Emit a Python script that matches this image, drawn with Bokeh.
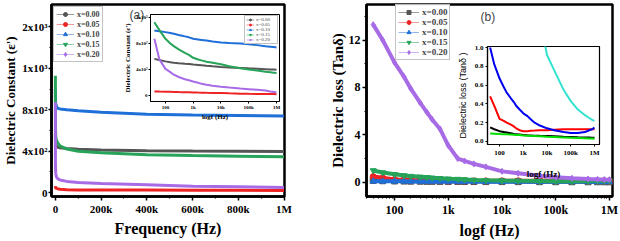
from bokeh.plotting import figure
from bokeh.layouts import row
from bokeh.models import ColumnDataSource, FixedTicker, Legend, LegendItem, Label, Range1d, NumeralTickFormatter
from bokeh.embed import file_html
from bokeh.resources import INLINE

# ---------------- data ----------------
freq = [40, 60, 100, 150, 200, 300, 400, 500, 700, 1000, 1500, 2000, 3000, 5000, 10000, 20000,
        50000, 100000, 200000, 400000, 600000, 800000, 1000000]
labels = ["x=0.00", "x=0.05", "x=0.10", "x=0.15", "x=0.20"]

# dielectric constant (eps')
eps_000 = [564, 545, 525, 512, 505, 497, 492, 488, 484, 477, 470, 465, 458, 450, 440, 432, 425, 418, 412, 405, 401, 399, 397]
eps_005 = [62, 60, 58, 57, 55, 53, 52, 51, 50, 47, 45, 44, 42, 40, 37, 33, 28, 26, 25, 24, 23, 22, 21]
eps_010 = [1000, 990, 975, 962, 950, 932, 920, 910, 895, 872, 862, 855, 845, 832, 815, 808, 800, 790, 775, 757, 750, 745, 740]
eps_015 = [1128, 1010, 872, 800, 760, 710, 680, 655, 625, 580, 555, 540, 520, 505, 480, 450, 420, 400, 385, 365, 357, 351, 346]
eps_020 = [872, 560, 410, 360, 320, 285, 265, 250, 235, 215, 195, 180, 165, 150, 135, 122, 108, 98, 87, 76, 62, 55, 48]

# dielectric loss (tan delta)
tan_000 = [0.15, 0.13, 0.11, 0.10, 0.095, 0.087, 0.08, 0.078, 0.075, 0.07, 0.067, 0.065, 0.062, 0.06, 0.058, 0.055, 0.05, 0.048, 0.045, 0.043, 0.042, 0.041, 0.04]
tan_005 = [0.48, 0.38, 0.24, 0.22, 0.20, 0.18, 0.16, 0.14, 0.12, 0.11, 0.11, 0.115, 0.117, 0.12, 0.12, 0.125, 0.13, 0.13, 0.13, 0.13, 0.13, 0.13, 0.13]
tan_010 = [0.085, 0.083, 0.08, 0.078, 0.076, 0.074, 0.072, 0.07, 0.068, 0.065, 0.062, 0.06, 0.058, 0.055, 0.05, 0.047, 0.043, 0.04, 0.037, 0.034, 0.032, 0.031, 0.03]
tan_015 = [1.0, 0.82, 0.67, 0.58, 0.52, 0.46, 0.42, 0.38, 0.34, 0.30, 0.27, 0.24, 0.20, 0.17, 0.14, 0.12, 0.10, 0.09, 0.09, 0.10, 0.12, 0.13, 0.15]
tan_020 = [13.3, 12.0, 10.1, 8.9, 7.9, 6.7, 5.9, 5.3, 4.5, 3.1, 2.0, 1.8, 1.55, 1.3, 0.92, 0.76, 0.55, 0.43, 0.34, 0.28, 0.25, 0.23, 0.22]

eps_series = [eps_000, eps_005, eps_010, eps_015, eps_020]
tan_series = [tan_000, tan_005, tan_010, tan_015, tan_020]

lin_ticks = [0, 200000, 400000, 600000, 800000, 1000000]
lin_tick_labels = ["0", "200k", "400k", "600k", "800k", "1M"]
log_ticks = [100, 1000, 10000, 100000, 1000000]
log_tick_labels = ["100", "1k", "10k", "100k", "1M"]
eps_ticks = [0, 400, 800, 1200, 1600]
eps_tick_labels = ["0", "4x10\u00b2", "8x10\u00b2", "1x10\u00b3", "2x10\u00b3"]
tan_ticks = [0, 4, 8, 12]
tan_inset_ticks = [0.0, 0.2, 0.4, 0.6, 0.8, 1.0]

colors = ["#555555", "#ee2424", "#1f6fd8", "#27a35a", "#a86be6"]
light = ["#9a9a9a", "#f29a9a", "#93b8ec", "#8fd1a8", "#d2b3f3"]
inset_b_colors = ["#000000", "#ff0000", "#00e000", "#0000ee", "#33e3d0"]
markers_a = ["circle", "circle", "triangle", "inverted_triangle", "diamond"]
markers_b = ["square", "circle", "triangle", "inverted_triangle", "diamond"]

SERIF = "Liberation Serif"
SANS = "Liberation Sans"
NAN = float("nan")
log_minor = [m * 10 ** e for e in range(1, 7) for m in range(2, 10)]


def style_axes(p, tick_size, lw=2.5, tick_out=4, minor_out=2):
    for ax in p.axis:
        ax.axis_line_width = lw
        ax.major_tick_line_width = 1.5 if lw > 1.5 else 1
        ax.minor_tick_line_width = 1.2 if lw > 1.5 else 0.8
        ax.major_tick_in = 0
        ax.major_tick_out = tick_out
        ax.minor_tick_in = 0
        ax.minor_tick_out = minor_out
        ax.major_label_text_font = SERIF
        ax.major_label_text_font_style = "bold"
        ax.major_label_text_font_size = tick_size
        ax.major_label_text_color = "black"
        ax.axis_label_text_font = SERIF
        ax.axis_label_text_font_style = "bold"
        ax.axis_label_text_color = "black"
        ax.major_label_standoff = 2
    p.grid.visible = False
    p.outline_line_color = "black"
    p.outline_line_width = lw
    p.outline_line_alpha = 1


def legend_renderers(p, line_col, mark_col, marker, msize, lw):
    src = ColumnDataSource(dict(x=[NAN], y=[NAN]))
    r1 = p.line("x", "y", source=src, line_color=line_col, line_width=lw)
    r2 = p.scatter("x", "y", source=src, marker=marker, size=msize, color=mark_col)
    return [r1, r2]


# ---------------- (a) main ----------------
pa = figure(width=300, height=241, output_backend="svg", toolbar_location=None,
            x_range=Range1d(-17000, 1002000), y_range=Range1d(-38, 1817),
            min_border_left=47, min_border_right=16, min_border_top=4, min_border_bottom=44)
style_axes(pa, "11px")
pa.xaxis.ticker = FixedTicker(ticks=lin_ticks, minor_ticks=[100000, 300000, 500000, 700000, 900000])
pa.xaxis.major_label_overrides = dict(zip(lin_ticks, lin_tick_labels))
pa.yaxis.ticker = FixedTicker(ticks=eps_ticks, minor_ticks=[200, 600, 1000, 1400])
pa.yaxis.major_label_overrides = dict(zip(eps_ticks, eps_tick_labels))
pa.xaxis.axis_label = "Frequency (Hz)"
pa.xaxis.axis_label_text_font_size = "16px"
pa.xaxis.axis_label_standoff = 2
pa.yaxis.axis_label = "Dielectric Constant (\u03b5')"
pa.yaxis.axis_label_text_font_size = "13px"
pa.yaxis.axis_label_standoff = 1
pa.yaxis.major_label_standoff = 1
pa.yaxis.major_tick_out = 3

items = []
for lab, col, lc, mk, vals in zip(labels, colors, light, markers_a, eps_series):
    pa.line(freq, vals, line_color=col, line_width=3)
    items.append(LegendItem(label=lab, renderers=legend_renderers(pa, lc, col, mk, 4, 1)))
lega = Legend(items=items, location="top_left", margin=2, padding=2, spacing=0,
              glyph_width=18, glyph_height=10, label_height=10, label_standoff=3,
              label_text_font=SERIF, label_text_font_style="bold", label_text_font_size="8px",
              border_line_color="#888888", border_line_width=1, background_fill_alpha=1)
pa.add_layout(lega)
pa.add_layout(Label(x=324000, y=1779, text="(a)", text_font=SANS, text_font_size="12px",
                    text_baseline="top", text_align="left"))

# ---------------- (a) inset ----------------
ia = figure(frame_width=129, frame_height=87, output_backend="svg", toolbar_location=None,
            x_axis_type="log", x_range=Range1d(29, 1.28e6), y_range=Range1d(-92, 1246),
            min_border_left=34, min_border_right=6, min_border_top=2, min_border_bottom=24,
            background_fill_color="white", border_fill_alpha=0)
style_axes(ia, "5px", lw=1, tick_out=2, minor_out=1)
ia.xaxis.ticker = FixedTicker(ticks=log_ticks, minor_ticks=[])
ia.xaxis.major_label_overrides = dict(zip(log_ticks, log_tick_labels))
ia.yaxis.ticker = FixedTicker(ticks=eps_ticks[:4], minor_ticks=[])
ia.yaxis.major_label_overrides = dict(zip(eps_ticks[:4], eps_tick_labels[:4]))
for ax in ia.axis:
    ax.major_label_standoff = 1
ia.xaxis.axis_label = "logf (Hz)"
ia.xaxis.axis_label_text_font_size = "7px"
ia.xaxis.axis_label_standoff = 0
ia.yaxis.axis_label = "Dielectric Constant (\u03b5')"
ia.yaxis.axis_label_text_font_size = "7px"
ia.yaxis.axis_label_standoff = 1
items = []
for lab, col, lc, mk, vals in zip(labels, colors, light, markers_a, eps_series):
    ia.line(freq, vals, line_color=col, line_width=2)
    items.append(LegendItem(label=lab, renderers=legend_renderers(ia, lc, col, mk, 3, 1)))
legi = Legend(items=items, location="top_right", margin=1, padding=1, spacing=0,
              glyph_width=8, glyph_height=5, label_height=5, label_standoff=2,
              label_text_font=SERIF, label_text_font_size="5px",
              border_line_color="#888888", border_line_width=1)
ia.add_layout(legi)
# inset placed after both panels (pulled back over panel a)
ia.margin = (10, -169, 0, -504)

# ---------------- (b) main ----------------
pb = figure(width=320, height=241, output_backend="svg", toolbar_location=None,
            x_axis_type="log", x_range=Range1d(30, 1.14e6), y_range=Range1d(-1.2, 15.0),
            min_border_left=66, min_border_right=8, min_border_top=3, min_border_bottom=41)
style_axes(pb, "12px")
pb.xaxis.ticker = FixedTicker(ticks=log_ticks, minor_ticks=log_minor)
pb.xaxis.major_label_overrides = dict(zip(log_ticks, log_tick_labels))
pb.yaxis.ticker = FixedTicker(ticks=tan_ticks, minor_ticks=[2, 6, 10, 14])
pb.xaxis.axis_label = "logf (Hz)"
pb.xaxis.axis_label_text_font_size = "16px"
pb.xaxis.axis_label_standoff = 2
pb.yaxis.axis_label = "Dielectric loss (Tan\u03b4)"
pb.yaxis.axis_label_text_font_size = "15px"
pb.yaxis.axis_label_standoff = 0
items = []
for lab, col, lc, mk, vals in zip(labels, colors, light, markers_b, tan_series):
    pb.line(freq, vals, line_color=col, line_width=4)
    pb.scatter(freq, vals, marker=mk, size=6, color=col)
    items.append(LegendItem(label=lab, renderers=legend_renderers(pb, lc, col, mk, 6, 1)))
legb = Legend(items=items, location=(29, 136), padding=2, spacing=0,
              glyph_width=21, glyph_height=10, label_height=10, label_standoff=3,
              label_text_font=SERIF, label_text_font_style="bold", label_text_font_size="9px",
              border_line_color="#888888", border_line_width=1)
pb.add_layout(legb)
pb.add_layout(Label(x=3980, y=14.5, text="(b)", text_font=SANS, text_font_size="12px",
                    text_baseline="top", text_align="left"))

# ---------------- (b) inset ----------------
ib = figure(frame_width=112, frame_height=98, output_backend="svg", toolbar_location=None,
            x_axis_type="log", x_range=Range1d(31, 1.63e6), y_range=Range1d(-0.032, 1.011),
            min_border_left=38, min_border_right=7, min_border_top=3, min_border_bottom=40,
            background_fill_color="white", border_fill_alpha=0)
style_axes(ib, "7px", lw=1.2, tick_out=2, minor_out=1)
ib.xaxis.ticker = FixedTicker(ticks=log_ticks, minor_ticks=[])
ib.xaxis.major_label_overrides = dict(zip(log_ticks, log_tick_labels))
ib.yaxis.ticker = FixedTicker(ticks=tan_inset_ticks, minor_ticks=[])
ib.yaxis.formatter = NumeralTickFormatter(format="0.0")
ib.xaxis.axis_label = "logf (Hz)"
ib.xaxis.axis_label_text_font_size = "9px"
ib.xaxis.axis_label_standoff = 9
ib.yaxis.axis_label = "Dielectric loss (Tan\u03b4 )"
ib.yaxis.axis_label_text_font = SANS
ib.yaxis.axis_label_text_font_style = "normal"
ib.yaxis.axis_label_text_font_size = "9px"
ib.yaxis.axis_label_standoff = 4
for col, vals in zip(inset_b_colors, tan_series):
    ib.line(freq, vals, line_color=col, line_width=2)
ib.margin = (42, 10, 0, 333)

layout = row(pa, pb, ia, ib)
open("out.html", "w").write(file_html(layout, INLINE))
